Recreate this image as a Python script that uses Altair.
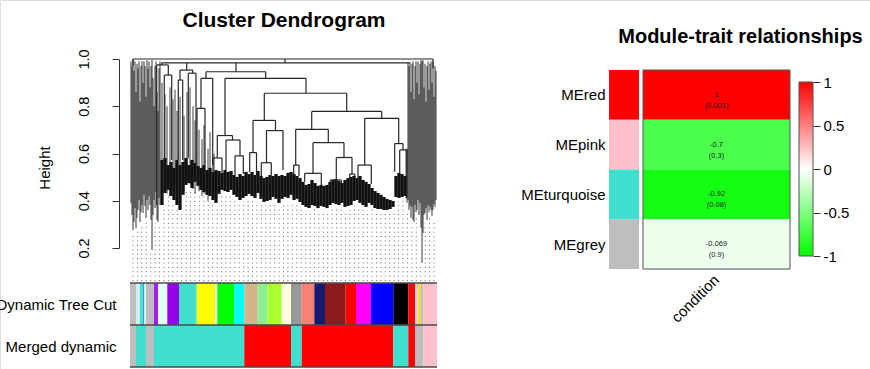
import json
import altair as alt
import pandas as pd

FONT = "Liberation Sans"
W, H = 870, 369

# ---------------- Cluster dendrogram ----------------
# Leaf order runs 0..307 along x; y is the merge height (1 - TOM similarity).
# Horizontal joins: (height, left position, right position)
MERGE_H = [
    (1.000, 3.0, 303.0), (0.984, 31.7, 280.0), (0.975, 26.7, 38.3),
    (0.953, 50.0, 62.7), (0.946, 76.0, 135.7), (0.940, 58.3, 66.0),
    (0.932, 34.3, 41.7), (0.918, 71.0, 82.7), (0.918, 95.0, 176.0),
    (0.911, 48.3, 52.7), (0.855, 134.3, 216.7), (0.791, 67.0, 75.0),
    (0.778, 181.7, 251.7), (0.749, 234.7, 268.7), (0.740, 123.0, 145.5),
    (0.702, 165.7, 198.3), (0.697, 136.5, 153.0), (0.676, 87.3, 102.5),
    (0.657, 96.0, 110.0), (0.646, 183.0, 214.0), (0.642, 264.7, 273.0),
    (0.615, 269.7, 277.0), (0.604, 119.7, 126.5), (0.590, 105.0, 113.3),
    (0.583, 206.3, 222.0), (0.581, 83.0, 92.0), (0.561, 131.3, 141.3),
    (0.551, 163.7, 169.0), (0.551, 228.0, 241.3), (0.516, 174.7, 191.3),
    (0.513, 219.7, 224.7), (0.488, 200.3, 211.3),
]
# Vertical branches: (position, lower height, upper height)
MERGE_V = [
    (155.0, 0.984, 1.000), (3.0, 0.970, 1.000), (303.0, 0.960, 1.000),
    (31.7, 0.975, 0.984), (26.7, 0.382, 0.975), (38.3, 0.932, 0.975),
    (34.3, 0.573, 0.932), (41.7, 0.573, 0.932), (56.7, 0.953, 0.984),
    (50.0, 0.911, 0.953), (48.3, 0.573, 0.911), (52.7, 0.573, 0.911),
    (62.7, 0.940, 0.953), (58.3, 0.581, 0.940), (66.0, 0.560, 0.940),
    (106.0, 0.946, 0.984), (76.0, 0.918, 0.946), (71.0, 0.791, 0.918),
    (67.0, 0.547, 0.791), (75.0, 0.551, 0.791), (82.7, 0.551, 0.918),
    (135.7, 0.918, 0.946), (95.0, 0.676, 0.918), (87.3, 0.581, 0.676),
    (83.0, 0.522, 0.581), (92.0, 0.518, 0.581), (102.5, 0.657, 0.676),
    (96.0, 0.530, 0.657), (110.0, 0.590, 0.657), (105.0, 0.509, 0.590),
    (113.3, 0.513, 0.590), (176.0, 0.855, 0.918), (134.3, 0.740, 0.855),
    (123.0, 0.604, 0.740), (119.7, 0.522, 0.604), (126.5, 0.509, 0.604),
    (145.5, 0.697, 0.740), (136.5, 0.561, 0.697), (131.3, 0.505, 0.561),
    (141.3, 0.509, 0.561), (153.0, 0.530, 0.697), (216.7, 0.778, 0.855),
    (181.7, 0.702, 0.778), (165.7, 0.551, 0.702), (163.7, 0.513, 0.551),
    (169.0, 0.505, 0.551), (198.3, 0.646, 0.702), (183.0, 0.516, 0.646),
    (174.7, 0.480, 0.516), (191.3, 0.467, 0.516), (214.0, 0.583, 0.646),
    (206.3, 0.488, 0.583), (200.3, 0.480, 0.488), (211.3, 0.475, 0.488),
    (222.0, 0.513, 0.583), (219.7, 0.496, 0.513), (224.7, 0.505, 0.513),
    (251.7, 0.749, 0.778), (234.7, 0.551, 0.749), (228.0, 0.496, 0.551),
    (241.3, 0.471, 0.551), (268.7, 0.642, 0.749), (264.7, 0.523, 0.642),
    (273.0, 0.615, 0.642), (269.7, 0.518, 0.615), (277.0, 0.412, 0.615),
]

# Dense outlying genes on both flanks of the tree
LEFT_FRINGE_X = list(range(1, 31))
LEFT_FRINGE_TOP = [0.99, 0.97, 1.0, 0.95, 0.99, 0.86, 0.98, 0.96, 0.99, 0.82,
                   0.97, 0.99, 0.90, 0.99, 0.97, 0.84, 0.995, 0.96, 0.99, 0.88,
                   0.97, 0.995, 0.92, 0.80, 0.97, 0.99, 0.86, 0.78, 0.96, 0.99]
LEFT_FRINGE_BOTTOM = [0.390, 0.340, 0.276, 0.310, 0.369, 0.284, 0.327, 0.361, 0.403, 0.310,
                      0.352, 0.382, 0.348, 0.425, 0.378, 0.327, 0.403, 0.361, 0.420, 0.382,
                      0.319, 0.192, 0.340, 0.403, 0.369, 0.437, 0.319, 0.310, 0.412, 0.382]
RIGHT_FRINGE_X = list(range(276, 307))
RIGHT_FRINGE_TOP = [0.62, 0.62, 0.985, 0.97, 0.985, 0.86, 0.98, 0.99, 0.83, 0.97,
                    0.99, 0.90, 0.99, 0.85, 0.98, 0.995, 0.99, 0.995, 0.88, 0.98,
                    0.82, 0.97, 0.99, 0.87, 0.98, 0.99, 0.90, 0.99, 0.84, 0.97, 0.95]
RIGHT_FRINGE_BOTTOM = [0.412, 0.391, 0.403, 0.361, 0.378, 0.327, 0.374, 0.319, 0.310, 0.382,
                       0.352, 0.361, 0.403, 0.340, 0.391, 0.285, 0.137, 0.264, 0.340, 0.348,
                       0.369, 0.319, 0.382, 0.352, 0.374, 0.361, 0.336, 0.361, 0.386, 0.374, 0.403]

# Grey sub-branches rising out of the left-centre block
MID_X = [32, 35, 37, 40, 43, 45, 47, 50, 54, 57, 60, 63, 65, 69, 72, 74, 78, 80, 84]
MID_TOP = [0.90, 0.85, 0.80, 0.88, 0.83, 0.87, 0.78, 0.84, 0.76, 0.86,
           0.88, 0.80, 0.74, 0.70, 0.66, 0.72, 0.62, 0.69, 0.60]
MID_BOTTOM = [0.47, 0.44, 0.43, 0.42, 0.45, 0.47, 0.40, 0.46, 0.44, 0.48,
              0.47, 0.45, 0.43, 0.44, 0.42, 0.43, 0.40, 0.44, 0.42]

# Tightly packed leaves at the bottom of the central modules
FUZZ_X = list(range(32, 276, 3))
FUZZ_TOP = [0.573, 0.581, 0.551, 0.564, 0.539, 0.573, 0.551, 0.564, 0.581, 0.551,
            0.573, 0.560, 0.547, 0.539, 0.551, 0.530, 0.539, 0.522, 0.530, 0.526,
            0.518, 0.530, 0.522, 0.526, 0.509, 0.501, 0.513, 0.505, 0.522, 0.513,
            0.522, 0.509, 0.526, 0.505, 0.496, 0.501, 0.509, 0.505, 0.513, 0.505,
            0.509, 0.505, 0.518, 0.522, 0.513, 0.505, 0.496, 0.480, 0.467, 0.471,
            0.488, 0.475, 0.463, 0.467, 0.463, 0.467, 0.480, 0.488, 0.492, 0.484,
            0.475, 0.488, 0.496, 0.501, 0.505, 0.496, 0.505, 0.488, 0.480, 0.471,
            0.454, 0.441, 0.433, 0.425, 0.416, 0.408, 0.403, 0.399, 0.505, 0.518,
            0.513, 0.505]
FUZZ_BOTTOM = [0.382, 0.433, 0.446, 0.420, 0.403, 0.382, 0.361, 0.425, 0.467, 0.475,
               0.454, 0.480, 0.463, 0.446, 0.437, 0.425, 0.420, 0.403, 0.391, 0.429,
               0.446, 0.441, 0.437, 0.446, 0.425, 0.416, 0.403, 0.412, 0.420, 0.429,
               0.420, 0.412, 0.433, 0.408, 0.395, 0.399, 0.403, 0.416, 0.408, 0.391,
               0.408, 0.416, 0.412, 0.425, 0.403, 0.408, 0.395, 0.382, 0.374, 0.369,
               0.382, 0.378, 0.369, 0.378, 0.374, 0.369, 0.382, 0.391, 0.386, 0.382,
               0.391, 0.374, 0.378, 0.382, 0.399, 0.403, 0.391, 0.382, 0.374, 0.391,
               0.382, 0.369, 0.365, 0.365, 0.361, 0.361, 0.365, 0.374, 0.416, 0.412,
               0.416, 0.420]

N_LEAF_SLOTS = 307
PLOT_FLOOR = 0.06       # lower limit of the dendrogram panel
GUIDE_COUNT = 69        # dotted guide lines hanging under the leaves
GUIDE_HANG = 0.015

# ---------------- module colour rows ----------------
ROW_NAMES = ["Dynamic Tree Cut", "Merged dynamic"]
TREE_CUT = [
    (0.0, 6.0, "#BEBEBE"), (6.0, 10.0, "#D4EDEE"), (10.0, 12.7, "#40E0D0"),
    (12.7, 14.0, "#3A9BDC"), (14.0, 16.0, "#D4EDEE"), (16.0, 24.0, "#BEBEBE"),
    (24.0, 28.3, "#A020F0"), (28.3, 37.3, "#E0FFFF"), (37.3, 49.0, "#9400E8"),
    (49.0, 66.7, "#40E0D0"), (66.7, 85.0, "#FFFF00"), (85.0, 87.3, "#E8F8E8"),
    (87.3, 104.3, "#00FF00"), (104.3, 114.3, "#00FFFF"), (114.3, 127.7, "#D2B48C"),
    (127.7, 137.7, "#90EE90"), (137.7, 151.7, "#ADFF2F"), (151.7, 161.0, "#FFFFE0"),
    (161.0, 171.7, "#999999"), (171.7, 184.3, "#FA8072"), (184.3, 195.0, "#191970"),
    (195.0, 215.7, "#8B1A1A"), (215.7, 226.0, "#FF0000"), (226.0, 241.0, "#FF00FF"),
    (241.0, 263.3, "#0000FF"), (263.3, 278.3, "#000000"), (278.3, 285.0, "#FF0000"),
    (285.0, 288.3, "#D3D3D3"), (288.3, 290.7, "#FFD700"), (290.7, 293.3, "#BEBEBE"),
    (293.3, 307.0, "#FFC0CB"),
]
MERGED = [
    (0.0, 6.0, "#BEBEBE"), (6.0, 16.0, "#40E0D0"), (16.0, 24.0, "#BEBEBE"),
    (24.0, 114.3, "#40E0D0"), (114.3, 161.0, "#FF0000"), (161.0, 171.7, "#40E0D0"),
    (171.7, 263.3, "#FF0000"), (263.3, 278.3, "#40E0D0"), (278.3, 285.0, "#FF0000"),
    (285.0, 293.3, "#BEBEBE"), (293.3, 307.0, "#FFC0CB"),
]

# ---------------- module-trait relationships ----------------
MODULES = ["MEred", "MEpink", "MEturquoise", "MEgrey"]
MODULE_COLOURS = ["#FF0000", "#FFC0CB", "#40E0D0", "#BEBEBE"]
TRAIT = "condition"
COR = [1, -0.7, -0.92, -0.069]
PVAL = [0.001, 0.3, 0.08, 0.9]
LEGEND_TICKS = [-1, -0.5, 0, 0.5, 1]

# ======================================================================
# Every panel shares one canvas; each gets its own scales placed on it.
LEAF_X = alt.Scale(domain=[0, N_LEAF_SLOTS], range=[130, 437], nice=False, zero=False)
HEIGHT_Y = alt.Scale(domain=[0.2, 1.0], range=[248, 59], nice=False, zero=False)
BAR_ROWS = alt.Scale(domain=[0, len(ROW_NAMES)], range=[283, 367], nice=False, zero=False)
HEAT_ROWS = alt.Scale(domain=[0, len(MODULES)], range=[70, 269], nice=False, zero=False)
LEGEND_Y = alt.Scale(domain=[-1, 1], range=[256, 82], nice=False, zero=False)


def band(lo, hi):
    return alt.Scale(range=[lo, hi], paddingInner=0, paddingOuter=0)


TXT = dict(labelColor="#000000", titleColor="#000000", grid=False)

LEAF_AXIS = alt.Axis(
    orient="top", labels=False, ticks=False, domain=False, title="Cluster Dendrogram",
    titleFontSize=21, titleFontWeight="bold", titleX=283.5, titleY=26.7,
    titleBaseline="alphabetic", titleAlign="center", titleAngle=0, **TXT)
HEIGHT_AXIS = alt.Axis(
    orient="left", values=[0.2, 0.4, 0.6, 0.8, 1.0], labelExpr="format(datum.value, '.1f')",
    labelAngle=-90, labelAlign="center", labelBaseline="alphabetic",
    labelPadding=24, tickSize=7, offset=-119,
    domainColor="#333333", tickColor="#333333", labelFontSize=14.5,
    title="Height", titleFontSize=15, titleFontWeight="normal",
    titleAngle=-90, titleBaseline="alphabetic", titleAlign="center",
    titleX=-70, titleY=167.5, **TXT)


def segs(rows):
    return pd.DataFrame(rows, columns=["x", "x2", "y", "y2"])


struct_df = segs([(a, b, h, h) for h, a, b in MERGE_H] +
                 [(x, x, lo, hi) for x, lo, hi in MERGE_V])
fringe_df = segs([(x, x, b, t) for x, t, b in zip(LEFT_FRINGE_X, LEFT_FRINGE_TOP, LEFT_FRINGE_BOTTOM)] +
                 [(x, x, b, t) for x, t, b in zip(RIGHT_FRINGE_X, RIGHT_FRINGE_TOP, RIGHT_FRINGE_BOTTOM)])
mid_df = segs([(x, x, b, t) for x, t, b in zip(MID_X, MID_TOP, MID_BOTTOM)])
fuzz_df = segs([(x, x, b, t) for x, t, b in zip(FUZZ_X, FUZZ_TOP, FUZZ_BOTTOM)])

# guide lines start just under the nearest leaves
leaf_bottoms = (list(zip(FUZZ_X, FUZZ_BOTTOM)) + list(zip(LEFT_FRINGE_X, LEFT_FRINGE_BOTTOM))
                + list(zip(RIGHT_FRINGE_X, RIGHT_FRINGE_BOTTOM)))
guide_rows = []
for k in range(GUIDE_COUNT):
    gx = 3 + k * (N_LEAF_SLOTS - 6) / (GUIDE_COUNT - 1)
    near = [b for x, b in leaf_bottoms if abs(x - gx) <= 2.0]
    if not near:
        near = [min(leaf_bottoms, key=lambda p: abs(p[0] - gx))[1]]
    guide_rows.append((gx, gx, PLOT_FLOOR, min(near) - GUIDE_HANG))
guide_df = segs(guide_rows)


def tree_layer(df, **mark):
    return alt.Chart(df).mark_rule(**mark).encode(
        x=alt.X("x:Q", scale=LEAF_X, axis=LEAF_AXIS),
        x2="x2:Q",
        y=alt.Y("y:Q", scale=HEIGHT_Y, axis=HEIGHT_AXIS),
        y2="y2:Q",
    )


dendro = alt.layer(
    tree_layer(guide_df, color="#666666", strokeWidth=1, strokeDash=[1, 3.4]),
    tree_layer(mid_df, color="#3c3c3c", strokeWidth=1),
    tree_layer(fringe_df, color="#000000", strokeWidth=0.8),
    tree_layer(fuzz_df, color="#111111", strokeWidth=3.3),
    tree_layer(struct_df, color="#262626", strokeWidth=1.2),
)

# ---------------- colour rows under the tree ----------------
bar_rows = []
for r, seg_list in enumerate([TREE_CUT, MERGED]):
    for a, b, c in seg_list:
        bar_rows.append({"start": a, "end": b, "row": r, "row_end": r + 1, "colour": c})
bars_df = pd.DataFrame(bar_rows)

ROW_AXIS = alt.Axis(
    orient="left", values=[i + 0.5 for i in range(len(ROW_NAMES))],
    labelExpr=f"{json.dumps(ROW_NAMES)}[floor(datum.value)]",
    ticks=False, domain=False, labelPadding=0, offset=-116, labelFontSize=15,
    labelLimit=300, title=None, **TXT)

bars = alt.layer(
    alt.Chart(bars_df).mark_rect().encode(
        x=alt.X("start:Q", scale=LEAF_X, axis=None), x2="end:Q",
        y=alt.Y("row:Q", scale=BAR_ROWS, axis=ROW_AXIS), y2="row_end:Q",
        color=alt.Color("colour:N", scale=None),
    ),
    alt.Chart(pd.DataFrame({"b": list(range(len(ROW_NAMES) + 1)),
                            "x0": [0] * (len(ROW_NAMES) + 1),
                            "x1": [N_LEAF_SLOTS] * (len(ROW_NAMES) + 1)})).mark_rule(
        color="#4a4a4a", strokeWidth=1.5).encode(
        x=alt.X("x0:Q", scale=LEAF_X, axis=None), x2="x1:Q",
        y=alt.Y("b:Q", scale=BAR_ROWS, axis=ROW_AXIS)),
)

# ---------------- module-trait heatmap ----------------
n = len(MODULES)
heat_df = pd.DataFrame({
    "module": MODULES, "colour": MODULE_COLOURS, "trait": TRAIT,
    "i": list(range(n)), "i_end": [i + 1 for i in range(n)],
    "mid": [i + 0.5 for i in range(n)], "cor": COR, "p": PVAL,
    "label": [f"{c:g}\n({p:g})" for c, p in zip(COR, PVAL)],
})

colour_col = alt.Chart(heat_df).mark_rect().encode(
    x=alt.X("trait:N", scale=band(609, 639), axis=alt.Axis(
        orient="top", labels=False, ticks=False, domain=False,
        title="Module-trait relationships", titleFontSize=20, titleFontWeight="bold",
        titleX=740, titleY=42.7, titleBaseline="alphabetic", titleAlign="center",
        titleAngle=0, **TXT)),
    y=alt.Y("i:Q", scale=HEAT_ROWS, axis=alt.Axis(
        orient="left", values=[i + 0.5 for i in range(n)],
        labelExpr=f"{json.dumps(MODULES)}[floor(datum.value)]",
        ticks=False, domain=False, labelPadding=4, offset=-609,
        labelFontSize=15, title=None, **TXT)),
    y2="i_end:Q",
    color=alt.Color("colour:N", scale=None),
)

X_TRAIT = alt.X("trait:N", scale=band(643, 790), axis=alt.Axis(
    orient="bottom", labelAngle=-45, labelAlign="right", labelBaseline="middle",
    labelPadding=8, offset=-(H - 269), ticks=False, domain=False, labelFontSize=15,
    title=None, **TXT))

heat = alt.layer(
    alt.Chart(heat_df).mark_rect().encode(
        x=X_TRAIT,
        y=alt.Y("i:Q", scale=HEAT_ROWS, axis=None), y2="i_end:Q",
        color=alt.Color("cor:Q", legend=None, scale=alt.Scale(
            domain=[-1, 0, 1], range=["#00FF00", "#FFFFFF", "#FF0000"], interpolate="rgb")),
    ),
    alt.Chart(heat_df).mark_text(lineBreak="\n", lineHeight=11, fontSize=7.5,
                                 font=FONT, color="#1a1a1a").encode(
        x=X_TRAIT, y=alt.Y("mid:Q", scale=HEAT_ROWS, axis=None), text="label:N"),
    alt.Chart(pd.DataFrame({"trait": [TRAIT], "lo": [0], "hi": [n]})).mark_rect(
        fillOpacity=0, stroke="#505050", strokeWidth=1).encode(
        x=X_TRAIT, y=alt.Y("lo:Q", scale=HEAT_ROWS, axis=None), y2="hi:Q"),
)

gradient = {
    "gradient": "linear", "x1": 0, "x2": 0, "y1": 1, "y2": 0,
    "stops": [{"offset": 0, "color": "#00FF00"}, {"offset": 0.5, "color": "#FFFFFF"},
              {"offset": 1, "color": "#FF0000"}],
}
legend_bar = alt.Chart(pd.DataFrame({"key": ["scale"], "lo": [-1], "hi": [1]})).mark_rect(
    color=gradient, stroke="#505050", strokeWidth=1,
).encode(
    x=alt.X("key:N", scale=band(799, 813), axis=None),
    y=alt.Y("lo:Q", scale=LEGEND_Y, axis=alt.Axis(
        orient="right", values=LEGEND_TICKS, labelExpr="datum.value + ''",
        tickSize=7, tickColor="#333333", domain=False, offset=-(W - 813),
        labelPadding=3, labelFontSize=15, labelBaseline="middle", title=None, **TXT)),
    y2="hi:Q",
)

chart = alt.layer(dendro, bars, colour_col, heat, legend_bar).resolve_scale(
    x="independent", y="independent", color="independent",
).resolve_axis(x="independent", y="independent").properties(
    width=W, height=H, padding=0,
    autosize=alt.AutoSizeParams(type="none"),
).configure_view(stroke=None).configure(font=FONT)

chart.save("out.html", embed_options={"renderer": "svg", "actions": False})
